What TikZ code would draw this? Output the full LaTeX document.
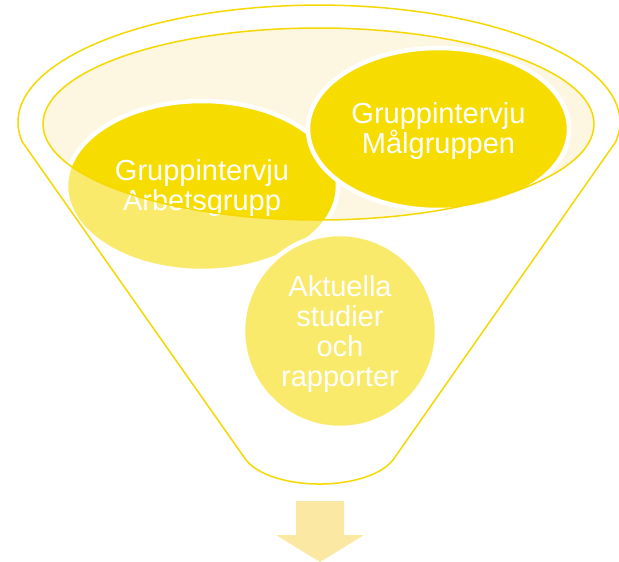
\documentclass[tikz,border=0pt]{standalone}
\usepackage{fontspec}
\setmainfont{Liberation Sans}
\usetikzlibrary{shapes.geometric}
\definecolor{fyel}{HTML}{F7DC00}
\definecolor{frim}{HTML}{F6D800}
\definecolor{fcream}{HTML}{FDF6E1}
\definecolor{farrow}{HTML}{FBE9A3}
\begin{document}
\begin{tikzpicture}[x=1pt,y=-1pt,
  blob/.style={ellipse, fill=fyel, draw=white, line width=4.5pt, inner sep=0pt, outer sep=0pt},
  blobtext/.style={text=white, align=center, inner sep=0pt, font=\fontsize{29}{30}\selectfont},
  rim/.style={draw=frim, line width=1.5pt},
  veil/.style={fill=white, fill opacity=0.42, even odd rule}]
\useasboundingbox (0,0) rectangle (619,562);
% opening of the funnel
\fill[fcream] (318.5,124) ellipse [x radius=275.5, y radius=96];
% circles
\node[blob, minimum width=272pt, minimum height=170pt] (arb) at (202,186) {};
\node[blobtext] (arbt) at ([yshift=-2.5pt]arb.center) {Gruppintervju\\Arbetsgrupp};
\node[blob, minimum width=261pt, minimum height=162pt] (mal) at (438.5,129) {};
\node[blobtext] (malt) at ([yshift=-2pt]mal.center) {Gruppintervju\\Målgruppen};
\node[blob, minimum width=194pt, minimum height=194pt] (akt) at (340,331) {};
\node[blobtext] (aktt) at ([yshift=-2.5pt]akt.center) {Aktuella\\studier\\och\\rapporter};
% funnel body veil
\path[veil] (22.4,142) arc[start angle=170.2, end angle=369.8, x radius=301, y radius=117]
  -- (393,460) arc[start angle=20, end angle=160, x radius=78.2, y radius=36.5] -- cycle
  (318.5,124) ellipse [x radius=275.5, y radius=96];
% outlines
\draw[rim, line join=round] (22.4,142) arc[start angle=170.2, end angle=369.8, x radius=301, y radius=117]
  -- (393,460) arc[start angle=20, end angle=160, x radius=78.2, y radius=36.5] -- cycle;
\draw[rim] (318.5,124) ellipse [x radius=275.5, y radius=96];
% arrow
\fill[farrow] (296,501) -- (344,501) -- (344,535) -- (364,535) -- (320,562) -- (276,535) -- (296,535) -- cycle;
\end{tikzpicture}
\end{document}
